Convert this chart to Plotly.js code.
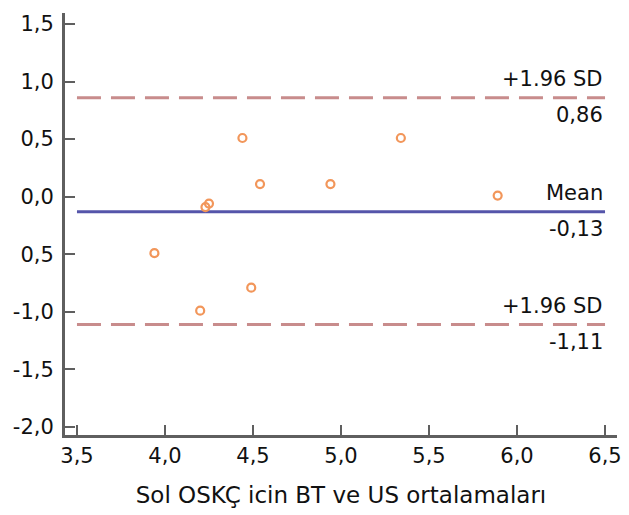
<!DOCTYPE html>
<html>
<head>
<meta charset="utf-8">
<script src="https://cdn.plot.ly/plotly-3.0.1.min.js"></script>
<style>html,body{margin:0;padding:0;background:#fff;}#chart{width:629px;height:515px;}</style>
</head>
<body>
<div id="chart"></div>
<script>
// Data
const meanX = [3.94, 4.20, 4.23, 4.25, 4.44, 4.49, 4.54, 4.94, 5.34, 5.89];
const diffY = [-0.49, -0.99, -0.09, -0.06, 0.51, -0.79, 0.11, 0.11, 0.51, 0.01];
const levelNames = ["+1.96 SD", "Mean", "+1.96 SD"];
const levelValues = [0.86, -0.13, -1.11];
const levelLabels = ["0,86", "-0,13", "-1,11"];
const lineSpanX = [3.5, 6.5];
const yTickVals = [1.5, 1.0, 0.5, 0.0, -0.5, -1.0, -1.5, -2.0];
const yTickText = ["1,5", "1,0", "0,5", "0,0", "0,5", "-1,0", "-1,5", "-2,0"];
const xTickVals = [3.5, 4.0, 4.5, 5.0, 5.5, 6.0, 6.5];
const xTickText = ["3,5", "4,0", "4,5", "5,0", "5,5", "6,0", "6,5"];
const xTitle = "Sol OSKÇ icin BT ve US ortalamaları";

const FONT = "DejaVu Sans, Liberation Sans, Arial, sans-serif";
const sdColor = "rgb(200,140,140)";
const meanColor = "rgb(85,85,170)";

const traces = levelValues.map((v, i) => ({
  x: lineSpanX,
  y: [v, v],
  mode: "lines",
  type: "scatter",
  hoverinfo: "skip",
  line: i === 1
    ? {color: meanColor, width: 3}
    : {color: sdColor, width: 3, dash: "24px,10px"}
}));

traces.push({
  x: meanX,
  y: diffY,
  mode: "markers",
  type: "scatter",
  marker: {symbol: "circle-open", size: 8, color: "rgb(242,150,90)", line: {width: 2.2, color: "rgb(242,150,90)"}}
});

const annotations = [];
levelValues.forEach((v, i) => {
  annotations.push({x: lineSpanX[1], y: v, xref: "x", yref: "y", text: levelNames[i],
    showarrow: false, xanchor: "right", yanchor: "middle", yshift: 19,
    font: {family: FONT, size: 21, color: "#111"}});
  annotations.push({x: lineSpanX[1], y: v, xref: "x", yref: "y", text: levelLabels[i],
    showarrow: false, xanchor: "right", yanchor: "middle", yshift: -17,
    font: {family: FONT, size: 21, color: "#111"}});
});

const axisCommon = {
  showgrid: false, zeroline: false, showline: true,
  linecolor: "rgb(95,95,95)", linewidth: 3,
  ticks: "inside", ticklen: 10, tickwidth: 2, tickcolor: "rgb(95,95,95)",
  tickfont: {family: FONT, size: 21, color: "#111"},
  fixedrange: true
};

const layout = {
  width: 629, height: 515,
  margin: {l: 65, r: 12, t: 13, b: 80},
  paper_bgcolor: "#fff", plot_bgcolor: "#fff",
  showlegend: false,
  xaxis: Object.assign({}, axisCommon, {
    range: [3.432, 6.568],
    tickmode: "array", tickvals: xTickVals, ticktext: xTickText,
    ticklabelstandoff: 0,
    title: {text: xTitle, font: {family: FONT, size: 23, color: "#111"}, standoff: 20}
  }),
  yaxis: Object.assign({}, axisCommon, {
    range: [-2.0695, 1.5955],
    tickmode: "array", tickvals: yTickVals, ticktext: yTickText,
    ticklabelstandoff: 4
  }),
  annotations: annotations
};

Plotly.newPlot("chart", traces, layout, {staticPlot: true, displayModeBar: false});
</script>
</body>
</html>
